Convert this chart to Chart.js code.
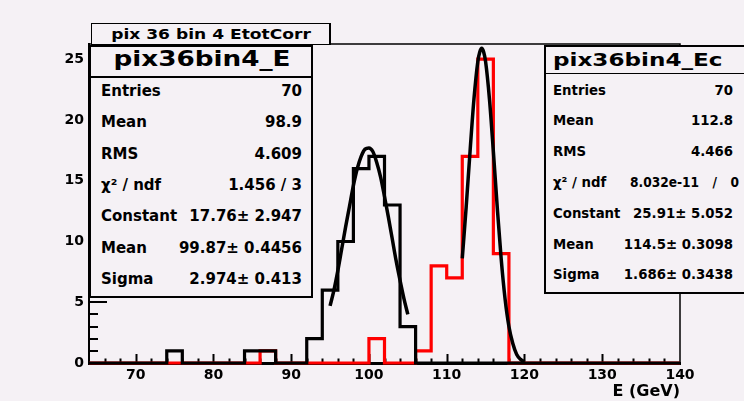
<!DOCTYPE html>
<html><head><meta charset="utf-8">
<script src="https://cdn.jsdelivr.net/npm/chart.js@4"></script>
<style>
html,body{margin:0;padding:0;background:#f5f1f5;}
#wrap{position:relative;width:744px;height:401px;overflow:hidden;background:#f5f1f5;font-family:"DejaVu Sans",sans-serif;}
canvas{position:absolute;left:0;top:0;}
.t{position:absolute;white-space:pre;color:#000;}
.box{position:absolute;box-sizing:border-box;background:#f5f1f5;border:2px solid #000;}
.rule{position:absolute;background:#000;}
</style></head><body>
<div id="wrap"><canvas id="c" width="744" height="401"></canvas></div>
<script>
// ---- data ----
const binStart = 64;
const binWidth = 2;
// bins 64-66, 66-68, ..., 138-140
const countsE  = [0,0,0,0,0,1,0,0,0,0,1,1,0,0,2,6,10,16,17,13,3,0,0,0,0,0,0,0,0,0,0,0,0,0,0,0,0,0];
const countsEc = [0,0,0,0,0,0,0,0,0,0,0,1,0,0,0,0,0,0,2,0,0,1,8,7,17,25,9,0,0,0,0,0,0,0,0,0,0,0];
// fitted curves
const fitEx = [95,95.5,96,96.5,97,97.5,98,98.5,99,99.5,100,100.5,101,101.5,102,102.5,103,103.5,104,104.5,105];
const fitEy = [4.7,6.0,7.6,9.4,11.2,12.9,14.6,16.0,17.0,17.6,17.7,17.4,16.5,15.3,13.7,12.0,10.2,8.4,6.8,5.3,4.0];
const fitEcx = [112,112.5,113,113.5,114,114.25,114.5,114.75,115,115.5,116,116.5,117,117.5,118,118.5,119,119.5,120];
const fitEcy = [8.6,12.8,17.4,21.7,24.8,25.6,25.9,25.6,24.8,21.7,17.4,12.8,8.6,5.3,3.0,1.6,0.7,0.3,0.1];
// axes
const xTickLabels = [70,80,90,100,110,120,130,140];
const yTickLabels = [0,5,10,15,20,25];
const xMin = 64, xMax = 140, yMin = 0, yMax = 26.25;
const xTitle = 'E (GeV)';
// texts
const histTitle = 'pix 36 bin 4 EtotCorr';
const nameE = 'pix36bin4_E';
const nameEc = 'pix36bin4_Ec';
const statLabels = ['Entries','Mean','RMS','χ² / ndf','Constant','Mean','Sigma'];
const statValuesE  = ['70','98.9','4.609','1.456 / 3','17.76± 2.947','99.87± 0.4456','2.974± 0.413'];
const statValuesEc = ['70','112.8','4.466','8.032e-11 / 0','25.91± 5.052','114.5± 0.3098','1.686± 0.3438'];

// ---- build ----
function histPoints(counts){
  const pts = counts.map((c,i)=>({x: binStart + i*binWidth, y: c}));
  pts.push({x: binStart + counts.length*binWidth, y: counts[counts.length-1]});
  return pts;
}
function curvePoints(xs, ys){ return xs.map((x,i)=>({x, y: ys[i]})); }

const tickFont = {family:'DejaVu Sans', weight:'bold', size:14};

const innerTicks = {
  id:'innerTicks',
  beforeDatasetsDraw(chart){
    const {ctx, chartArea:a, scales:{x, y}} = chart;
    ctx.save();
    ctx.strokeStyle = '#000';
    ctx.lineWidth = 1.5;
    ctx.beginPath();
    ctx.moveTo(a.left, a.top); ctx.lineTo(a.right, a.top); ctx.lineTo(a.right, a.bottom);
    ctx.stroke();
    ctx.lineWidth = 2;
    ctx.beginPath();
    for (let v = xMin + binWidth; v < xMax; v += binWidth){
      const px = Math.round(x.getPixelForValue(v)) + 0.5;
      const len = (v % 10 === 0) ? 9 : 4.5;
      ctx.moveTo(px, a.bottom); ctx.lineTo(px, a.bottom - len);
    }
    for (let v = 1; v <= Math.floor(yMax); v += 1){
      const py = Math.round(y.getPixelForValue(v));
      const len = (v % 5 === 0) ? 18 : 9;
      ctx.moveTo(a.left, py); ctx.lineTo(a.left + len, py);
    }
    ctx.stroke();
    ctx.restore();
  }
};

new Chart(document.getElementById('c'), {
  type:'line',
  data:{
    datasets:[
      {label:'fitE', data: curvePoints(fitEx, fitEy), borderColor:'#000', borderWidth:3.5, pointRadius:0, cubicInterpolationMode:'monotone', order:0, clip:false},
      {label:'fitEc', data: curvePoints(fitEcx, fitEcy), borderColor:'#000', borderWidth:3.5, pointRadius:0, cubicInterpolationMode:'monotone', order:0, clip:false},
      {label:nameE, data: histPoints(countsE), borderColor:'#000', borderWidth:3.2, pointRadius:0, stepped:true, borderJoinStyle:'miter', order:1, clip:false},
      {label:nameEc, data: histPoints(countsEc), borderColor:'#ff0000', borderWidth:3.2, pointRadius:0, stepped:true, borderJoinStyle:'miter', order:2, clip:false}
    ]
  },
  options:{
    responsive:false, animation:false, devicePixelRatio:1,
    layout:{padding:{top:44, right:64, left:0, bottom:0}},
    plugins:{legend:{display:false}, tooltip:{enabled:false}, title:{display:false}},
    scales:{
      x:{type:'linear', min:xMin, max:xMax,
        afterBuildTicks:s=>{ s.ticks = xTickLabels.map(v=>({value:v})); },
        afterFit:s=>{ s.height = 38; },
        grid:{display:true, drawOnChartArea:false, drawTicks:false},
        border:{display:true, color:'#000', width:3},
        ticks:{color:'#000', font:tickFont, padding:4, maxRotation:0, autoSkip:false},
        title:{display:true, text:xTitle, align:'end', color:'#000', font:{family:'DejaVu Sans', weight:'bold', size:16}, padding:{top:0, bottom:0}}
      },
      y:{type:'linear', min:yMin, max:yMax,
        afterBuildTicks:s=>{ s.ticks = yTickLabels.map(v=>({value:v})); },
        afterFit:s=>{ s.width = 89; },
        grid:{display:true, drawOnChartArea:false, drawTicks:false},
        border:{display:true, color:'#000', width:2},
        ticks:{color:'#000', font:tickFont, padding:5, autoSkip:false}
      }
    }
  },
  plugins:[innerTicks]
});

// ---- overlay boxes (ROOT title / stat boxes) ----
const wrap = document.getElementById('wrap');
function addBox(l, t, w, h, extra){
  const d = document.createElement('div'); d.className = 'box';
  Object.assign(d.style, {left:l+'px', top:t+'px', width:w+'px', height:h+'px'}, extra||{});
  wrap.appendChild(d); return d;
}
function addRule(l, t, w, h){
  const d = document.createElement('div'); d.className = 'rule';
  Object.assign(d.style, {left:l+'px', top:t+'px', width:w+'px', height:h+'px'});
  wrap.appendChild(d);
}
function addText(str, x, cy, o){
  const el = document.createElement('div'); el.className = 't';
  el.textContent = str;
  const size = o.size, lh = Math.round(size*1.3);
  el.style.font = `${o.weight||'bold'} ${size}px "DejaVu Sans"`;
  el.style.lineHeight = lh + 'px';
  el.style.top = (cy - lh/2) + 'px';
  if (o.ws) el.style.wordSpacing = o.ws + 'px';
  const sx = o.sx || 1;
  if (o.align === 'right'){
    el.style.right = (744 - x) + 'px'; el.style.transformOrigin = 'right center';
    el.style.transform = `scaleX(${sx})`;
  } else if (o.align === 'center'){
    el.style.left = x + 'px'; el.style.transformOrigin = 'center center';
    el.style.transform = `translateX(-50%) scaleX(${sx})`;
  } else {
    el.style.left = x + 'px'; el.style.transformOrigin = 'left center';
    el.style.transform = `scaleX(${sx})`;
  }
  wrap.appendChild(el);
}

// title box
addBox(90.5, 23, 240, 21.5, {borderWidth:'1.5px 2.5px 1.5px 1.5px'});
addText(histTitle, 210.5, 33.5, {size:14, sx:1.22, align:'center'});

// left stat box
addBox(89, 45, 224, 253);
addRule(89, 76, 224, 1.5);
addText(nameE, 202, 59.5, {size:21, sx:1.25, align:'center'});
const rowsE = [91,122,153.5,184.5,216,247.5,279];
statLabels.forEach((s,i)=>addText(s, 101, rowsE[i], {size:15}));
statValuesE.forEach((s,i)=>addText(s, 302, rowsE[i], {size:15, align:'right'}));

// right stat box
addBox(544, 44.5, 230, 249);
addRule(544, 72.5, 230, 1.5);
addText(nameEc, 553, 60.3, {size:17.5, sx:1.32});
const rowsEc = [90,120.8,151.6,182.4,213.2,244,274.8];
statLabels.forEach((s,i)=>addText(s, 553, rowsEc[i], {size:13.3}));
statValuesEc.forEach((s,i)=>{
  if (i === 3) addText(s, 630, rowsEc[i], {size:13.3, sx:0.92, ws:10});
  else addText(s, 733, rowsEc[i], {size:13.3, align:'right'});
});
</script>
</body></html>
